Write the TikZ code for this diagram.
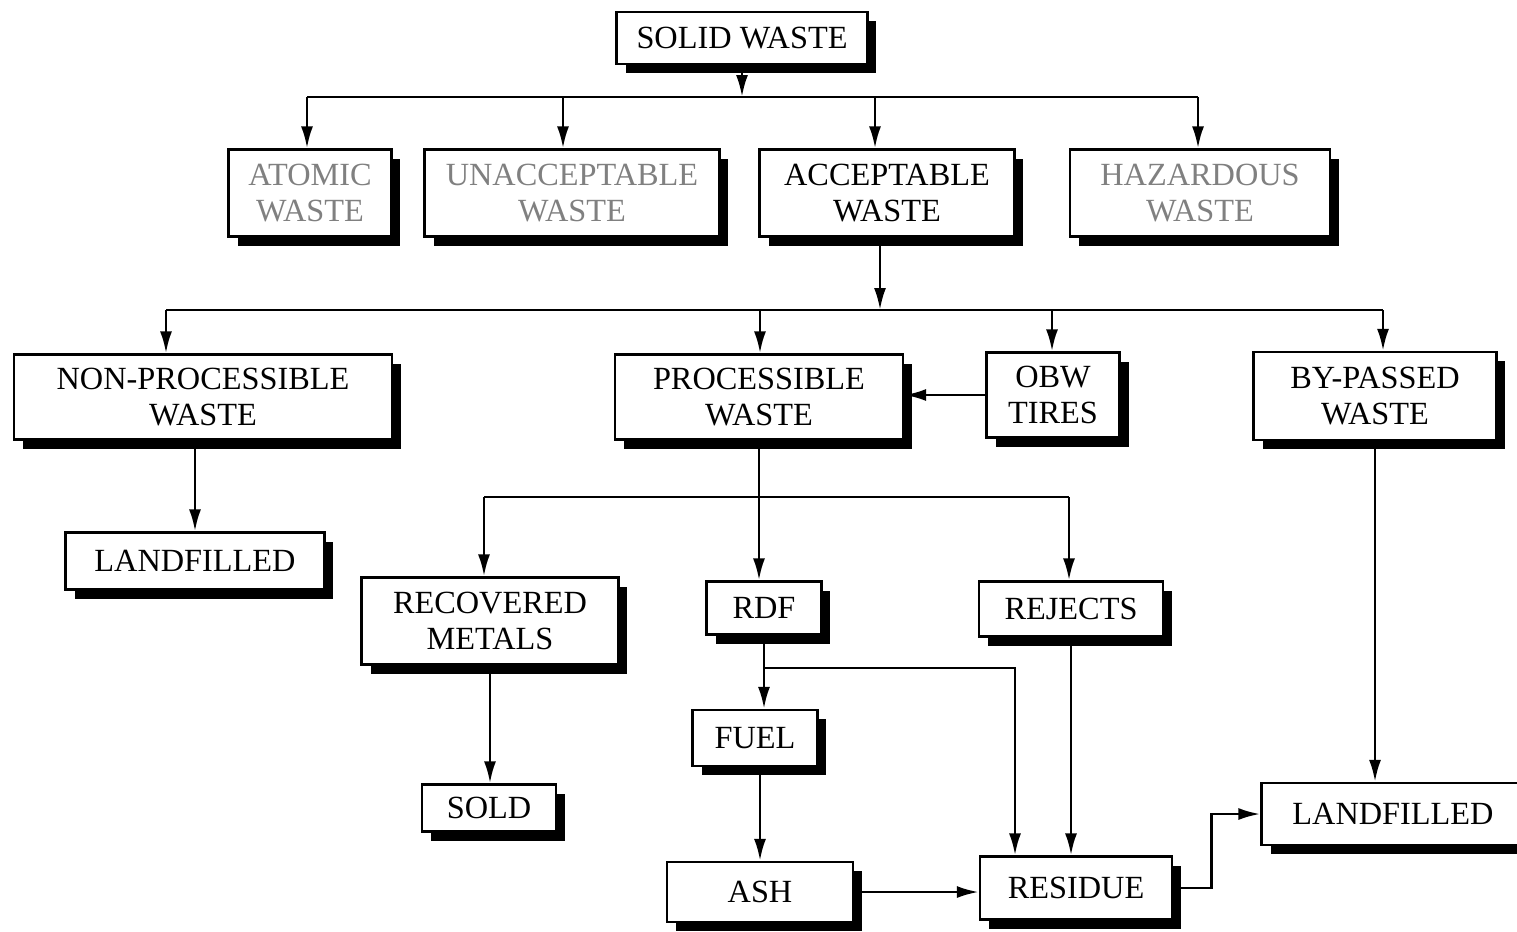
\documentclass[tikz,border=0pt]{standalone}
\usepackage{fontspec}
\setmainfont{Liberation Serif}
\usetikzlibrary{arrows.meta, positioning, shadows}

\begin{document}
\begin{tikzpicture}[
    x=0.02cm, y=-0.02cm,
    >={Latex[length=0.44cm, width=0.24cm]},
    wbox/.style={draw, line width=1.3pt, fill=white, align=center, inner sep=2pt,
      font=\fontsize{18.4}{20.5}\selectfont,
      drop shadow={shadow xshift=0.18cm, shadow yshift=-0.18cm, fill=black, opacity=1}},
    faded/.style={text=black!50},
    link/.style={line width=1.6pt},
    arrow/.style={->, line width=1.6pt},
]
\useasboundingbox (0,0) rectangle (1517,931);
\clip (0,0) rectangle (1517,931);

% Boxes, top row
\node[wbox, minimum width=5.02cm, minimum height=1.04cm] (solid) at (742,38) {SOLID WASTE};
\node[wbox, faded, minimum width=3.26cm, minimum height=1.74cm] (atomic) at (310,193) {ATOMIC\\WASTE};
\node[wbox, faded, minimum width=5.9cm, minimum height=1.74cm] (unaccept) at (572,193) {UNACCEPTABLE\\WASTE};
\node[wbox, minimum width=5.1cm, minimum height=1.74cm] (accept) at (887,193) {ACCEPTABLE\\WASTE};
\node[wbox, faded, minimum width=5.2cm, minimum height=1.74cm] (hazard) at (1200,193) {HAZARDOUS\\WASTE};

% Boxes, second row
\node[wbox, minimum width=7.56cm, minimum height=1.7cm] (nonproc) at (203,397) {NON-PROCESSIBLE\\WASTE};
\node[wbox, minimum width=5.76cm, minimum height=1.7cm] (proc) at (759,397) {PROCESSIBLE\\WASTE};
\node[wbox, minimum width=2.66cm, minimum height=1.7cm] (obw) at (1053,395) {OBW\\TIRES};
\node[wbox, minimum width=4.86cm, minimum height=1.76cm] (bypass) at (1375,396) {BY-PASSED\\WASTE};

% Boxes, lower part
\node[wbox, minimum width=5.18cm, minimum height=1.14cm] (landleft) at (195,561) {LANDFILLED};
\node[wbox, minimum width=5.14cm, minimum height=1.74cm] (recov) at (490,621) {RECOVERED\\METALS};
\node[wbox, minimum width=2.3cm, minimum height=1.06cm] (rdf) at (764,608) {RDF};
\node[wbox, minimum width=3.68cm, minimum height=1.1cm] (rejects) at (1071,609) {REJECTS};
\node[wbox, minimum width=2.5cm, minimum height=1.12cm] (fuel) at (755,738) {FUEL};
\node[wbox, minimum width=2.68cm, minimum height=0.94cm] (sold) at (489,808) {SOLD};
\node[wbox, minimum width=3.72cm, minimum height=1.2cm] (ash) at (760,892) {ASH};
\node[wbox, minimum width=3.84cm, minimum height=1.26cm] (residue) at (1076,888) {RESIDUE};
\node[wbox, minimum width=5.26cm, minimum height=1.24cm] (landright) at (1393,814) {LANDFILLED};

% First split
\coordinate (b1) at (742,97);
\coordinate (b1a) at (307,97);
\coordinate (b1b) at (563,97);
\coordinate (b1c) at (875,97);
\coordinate (b1d) at (1198,97);
\draw[arrow] (solid) -- (b1);
\draw[link] (b1a) -- (b1d);
\draw[arrow] (b1a) -- (b1a |- atomic.north);
\draw[arrow] (b1b) -- (b1b |- unaccept.north);
\draw[arrow] (b1c) -- (b1c |- accept.north);
\draw[arrow] (b1d) -- (b1d |- hazard.north);

% Second split
\coordinate (b2) at (880,310);
\coordinate (b2a) at (166,310);
\coordinate (b2b) at (760,310);
\coordinate (b2c) at (1052,310);
\coordinate (b2d) at (1383,310);
\draw[arrow] (accept.south -| b2) -- (b2);
\draw[link] (b2a) -- (b2d);
\draw[arrow] (b2a) -- (b2a |- nonproc.north);
\draw[arrow] (b2b) -- (b2b |- proc.north);
\draw[arrow] (b2c) -- (b2c |- obw.north);
\draw[arrow] (b2d) -- (b2d |- bypass.north);
\draw[arrow] (obw.west) -- (obw.west -| proc.east);
\draw[arrow] (nonproc.south -| landleft.north) -- (landleft.north);

% Processing
\coordinate (b3a) at (484,497);
\coordinate (b3c) at (1069,497);
\draw[link] (b3a) -- (b3c);
\draw[arrow] (proc.south) -- (proc.south |- rdf.north);
\draw[arrow] (b3a) -- (b3a |- recov.north);
\draw[arrow] (b3c) -- (b3c |- rejects.north);
\draw[arrow] (recov.south) -- (recov.south |- sold.north);
\draw[arrow] (rdf.south) -- (rdf.south |- fuel.north);
\coordinate (b4) at (764,668);
\coordinate (b4r) at (1015,668);
\draw[arrow] (b4) -- (b4r) -- (b4r |- residue.north);
\draw[arrow] (rejects.south) -- (rejects.south |- residue.north);
\draw[arrow] (fuel.south -| ash.north) -- (ash.north);
\draw[arrow] (ash.east) -- (ash.east -| residue.west);
\draw[arrow] (residue.east) -- ++(38,0) |- (landright.west);
\draw[arrow] (bypass.south) -- (bypass.south |- landright.north);

\end{tikzpicture}
\end{document}
